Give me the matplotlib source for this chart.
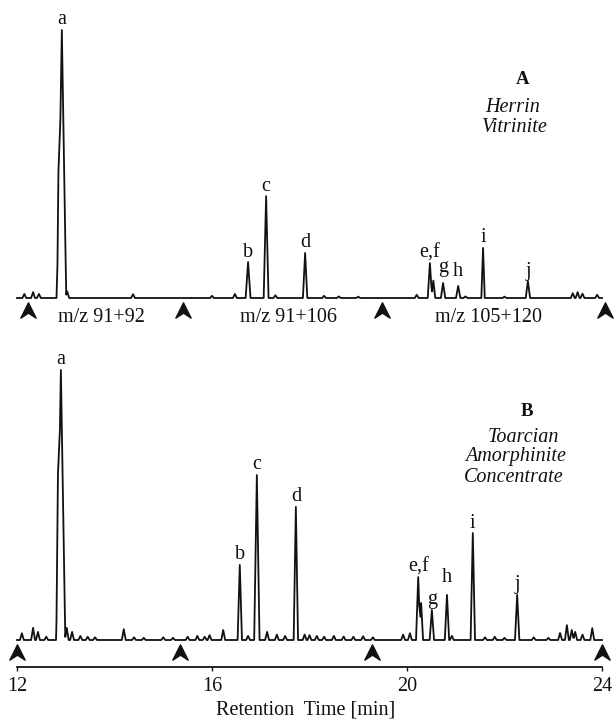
import numpy as np
import matplotlib
matplotlib.use("Agg")
import matplotlib.pyplot as plt
from matplotlib.path import Path

plt.rcParams['font.family'] = ['Liberation Serif', 'DejaVu Serif']

# --- panel A: Herrin vitrinite (retention time [min], relative height, half width [min])
labels = ["a", "b", "c", "d", "e,f", "g", "h", "i", "j"]
rt_a = [12.92, 16.74, 17.11, 17.91, 20.47, 20.74, 21.05, 21.56, 22.48]
h_a = [100, 13.4, 38, 16.8, 13, 5.6, 4.5, 18.7, 6.3]
w_a = [0.09, 0.05, 0.05, 0.045, 0.045, 0.045, 0.045, 0.035, 0.045]
# small unlabelled peaks / baseline wiggles
minor_rt_a = [12.15, 12.33, 12.45, 12.85, 13.03, 14.38, 16.0, 16.47, 17.3, 18.3, 18.6,
              19.0, 20.2, 20.54, 21.2, 22.0, 23.4, 23.5, 23.6, 23.9]
minor_h_a = [1.5, 2.2, 1.5, 25, 2.5, 1.4, 0.8, 1.5, 1.0, 0.8, 0.6,
             0.5, 1.2, 6.5, 0.6, 0.5, 1.8, 2.2, 1.6, 1.2]
switch_a = [12.23, 15.41, 19.49, 24.06]
mz_a = ["m/z 91+92", "m/z 91+106", "m/z 105+120"]

# --- panel B: Toarcian amorphinite concentrate
rt_b = [12.90, 16.57, 16.92, 17.72, 20.23, 20.51, 20.82, 21.35, 22.26]
h_b = [100, 27.8, 61.1, 49.3, 23.3, 11.1, 16.7, 39.6, 16.7]
w_b = [0.09, 0.045, 0.055, 0.045, 0.045, 0.045, 0.045, 0.045, 0.045]
minor_rt_b = [12.10, 12.33, 12.43, 12.60, 12.84, 13.02, 13.13, 13.30, 13.45, 13.60, 14.19,
              14.40, 14.60, 15.0, 15.2, 15.5, 15.7, 15.85, 15.95, 16.23, 16.74,
              17.13, 17.33, 17.50, 17.90, 18.00, 18.15, 18.3, 18.5, 18.7, 18.9,
              19.1, 19.3, 19.92, 20.06, 20.29, 20.92, 21.6, 21.8, 22.0, 22.6,
              22.9, 23.14, 23.28, 23.38, 23.45, 23.6, 23.8]
minor_h_b = [2.5, 4.5, 3.0, 1.2, 28, 4.5, 3.0, 1.5, 1.2, 1.0, 4.0,
             1.0, 0.8, 1.0, 0.8, 1.2, 1.5, 1.2, 1.8, 3.7, 1.5,
             3.0, 2.0, 1.5, 2.0, 1.8, 1.5, 1.2, 1.5, 1.3, 1.2,
             1.4, 1.0, 2.0, 2.5, 13.7, 1.5, 1.0, 1.2, 0.8, 1.0,
             0.8, 2.6, 5.5, 3.7, 3.0, 2.0, 4.4]
switch_b = [12.0, 15.34, 19.28, 24.0]


def trace(rt, h, w, mrt, mh):
    # piecewise-linear chromatogram built from the peak list
    peaks = list(zip(rt, h, w)) + [(t, v, 0.04) for t, v in zip(mrt, mh)]
    xs = sorted({12.0, 24.0} | {p for t, v, ww in peaks for p in (t - ww, t, t + ww)})
    xs = np.array(xs)
    ys = np.zeros_like(xs)
    for t, v, ww in peaks:
        ys += np.interp(xs, [t - ww, t, t + ww], [0, v, 0], left=0, right=0)
    return xs, ys


arrow = Path([(-1, -1), (0, 1), (1, -1), (0, -0.35), (-1, -1)],
             [Path.MOVETO, Path.LINETO, Path.LINETO, Path.LINETO, Path.CLOSEPOLY])

W, H = 616, 722
fig = plt.figure(figsize=(W / 100, H / 100), dpi=100)
left, right = 17 / W, 602 / W

ax_a = fig.add_axes([left, 1 - 298 / H, right - left, 268 / H])
ax_b = fig.add_axes([left, 1 - 640 / H, right - left, 270 / H])

fs = 14.5
ink = "#111111"
panels = [
    (ax_a, rt_a, h_a, w_a, minor_rt_a, minor_h_a, switch_a, {"g": 4, "h": 3}),
    (ax_b, rt_b, h_b, w_b, minor_rt_b, minor_h_b, switch_b, {"h": 5}),
]
for ax, rt, h, w, mrt, mh, sw, extra in panels:
    xs, ys = trace(rt, h, w, mrt, mh)
    ax.plot(xs, ys, color=ink, lw=1.3, clip_on=False)
    ax.set_xlim(12, 24)
    ax.set_ylim(0, 100)
    for lab, t, v in zip(labels, rt, h):
        ax.annotate(lab, (t, v), xytext=(0, 4 + extra.get(lab, 0)),
                    textcoords="offset points", ha="center", va="baseline",
                    fontsize=fs, color=ink)
    ax.plot(sw, [-4.5] * len(sw), linestyle="none", marker=arrow,
            markersize=11, color=ink, clip_on=False)
    for s in ax.spines.values():
        s.set_visible(False)
    ax.set_yticks([])
    ax.patch.set_alpha(0)

ax_a.set_xticks([])
for lab, xc in zip(mz_a, [101, 288, 489]):
    fig.text(xc / W, 1 - 317 / H, lab, ha="center", va="center", fontsize=fs, color=ink)

ax_b.spines["bottom"].set_visible(True)
ax_b.spines["bottom"].set_position(("outward", 19.4))
ax_b.spines["bottom"].set_linewidth(1.2)
ax_b.set_xticks([12, 16, 20, 24])
ax_b.tick_params(axis="x", direction="out", length=3, width=1, pad=4,
                 labelsize=fs, colors=ink)
fig.text(306 / W, 1 - 710 / H, "Retention  Time [min]", ha="center", va="center",
         fontsize=fs, color=ink)

fig.text(523 / W, 1 - 80 / H, "A", ha="center", va="center", fontsize=fs - 1, fontweight="bold", color=ink)
fig.text(513 / W, 1 - 107 / H, "Herrin", ha="center", va="center", fontsize=fs, style="italic", color=ink)
fig.text(515 / W, 1 - 128 / H, "Vitrinite", ha="center", va="center", fontsize=fs, style="italic", color=ink)

fig.text(527 / W, 1 - 412 / H, "B", ha="center", va="center", fontsize=fs - 1, fontweight="bold", color=ink)
fig.text(523 / W, 1 - 437 / H, "Toarcian", ha="center", va="center", fontsize=fs, style="italic", color=ink)
fig.text(516 / W, 1 - 457 / H, "Amorphinite", ha="center", va="center", fontsize=fs, style="italic", color=ink)
fig.text(514 / W, 1 - 478 / H, "Concentrate", ha="center", va="center", fontsize=fs, style="italic", color=ink)

fig.savefig("out.png", dpi=100)
